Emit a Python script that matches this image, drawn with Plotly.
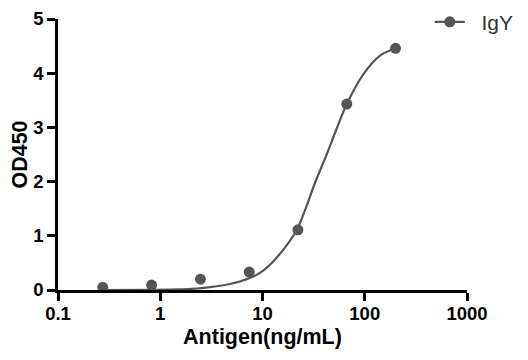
import plotly.graph_objects as go

# Measured points
conc = [0.274, 0.823, 2.47, 7.41, 22.2, 66.7, 200]
od450 = [0.05, 0.09, 0.20, 0.33, 1.11, 3.43, 4.46]

# Fitted curve
curve_x = [0.27, 0.8, 1.5, 2.4, 4.8, 7.5, 10, 13.2, 17.8, 21.8, 25.9, 32.5, 42, 53, 66.7, 96, 140, 200]
curve_y = [0.00, 0.004, 0.012, 0.03, 0.11, 0.22, 0.35, 0.56, 0.86, 1.12, 1.46, 1.97, 2.48, 2.97, 3.43, 3.97, 4.32, 4.46]

x_tickvals = [0.1, 1, 10, 100, 1000]
x_ticktext = ["0.1", "1", "10", "100", "1000"]
y_tickvals = [0, 1, 2, 3, 4, 5]

series_name = "\u00a0\u00a0IgY"
color = "#555555"
FONT = "Liberation Sans, Arial, sans-serif"

fig = go.Figure()
fig.add_trace(go.Scatter(x=curve_x, y=curve_y, mode="lines", line=dict(color=color, width=2.2, shape="spline"),
                         showlegend=False, hoverinfo="skip"))
fig.add_trace(go.Scatter(x=conc, y=od450, mode="markers", marker=dict(color=color, size=11),
                         showlegend=False, cliponaxis=False))
fig.add_trace(go.Scatter(x=[None], y=[None], mode="lines+markers", name=series_name,
                         line=dict(color=color, width=2.2), marker=dict(color=color, size=11)))

# the page body has an 8px margin, so margins compensate for it
fig.update_layout(
    width=528, height=360,
    margin=dict(l=50, r=69, t=11, b=78, autoexpand=False),
    paper_bgcolor="white", plot_bgcolor="white",
    font=dict(family=FONT, color="black"),
    legend=dict(x=0.909, y=1.064, xanchor="left", yanchor="top", bgcolor="rgba(0,0,0,0)",
                font=dict(size=21, family=FONT, color="#333333")),
    xaxis=dict(type="log", range=[-1, 3], tickvals=x_tickvals, ticktext=x_ticktext,
               showline=True, linecolor="black", linewidth=2.5, ticks="outside", ticklen=8,
               tickwidth=2.5, tickcolor="black", showgrid=False, zeroline=False, automargin=False,
               ticklabelstandoff=-3,
               tickfont=dict(size=18.5, family=FONT, weight="bold"),
               title=dict(text="Antigen(ng/mL)", font=dict(size=21.5, family=FONT, weight="bold"), standoff=6)),
    yaxis=dict(range=[0, 5], tickvals=y_tickvals, showline=True, linecolor="black", linewidth=2.5,
               ticks="outside", ticklen=8, tickwidth=2.5, tickcolor="black", showgrid=False, zeroline=False,
               automargin=False,
               tickfont=dict(size=18.5, family=FONT, weight="bold"),
               title=dict(text="OD450", font=dict(size=21.5, family=FONT, weight="bold"), standoff=3)),
)

fig.write_html("out.html")
